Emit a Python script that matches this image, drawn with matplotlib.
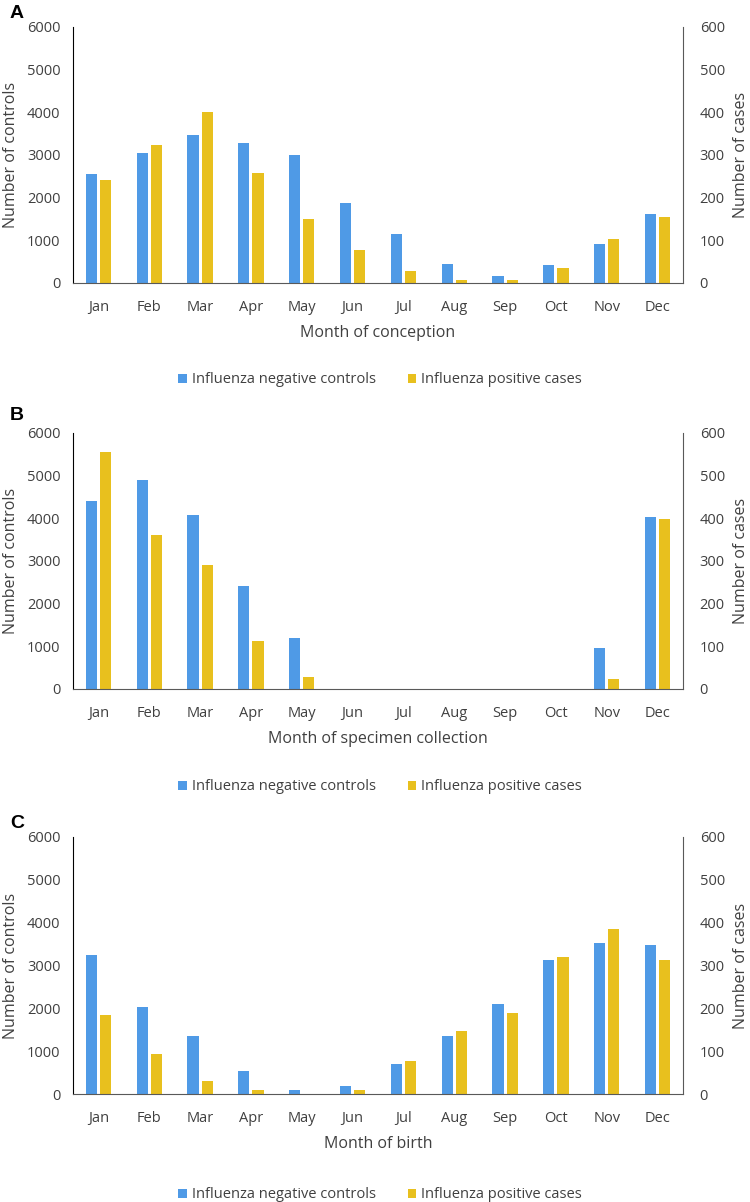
import numpy as np
import matplotlib
matplotlib.use('Agg')
from matplotlib import pyplot as plt

plt.rcParams['font.family'] = ['Open Sans', 'DejaVu Sans']

months = ['Jan', 'Feb', 'Mar', 'Apr', 'May', 'Jun',
          'Jul', 'Aug', 'Sep', 'Oct', 'Nov', 'Dec']

# A: month of conception
conc_controls = [2555, 3055, 3477, 3273, 3000, 1883, 1150, 445, 156, 414, 914, 1625]
conc_cases = [242, 323, 400, 257, 150, 77, 27, 6, 6, 35, 103, 155]

# B: month of specimen collection
spec_controls = [4410, 4900, 4085, 2416, 1185, 0, 0, 0, 0, 0, 951, 4022]
spec_cases = [556, 362, 291, 113, 29, 0, 0, 0, 0, 0, 24, 399]

# C: month of birth
birth_controls = [3234, 2034, 1356, 538, 101, 195, 701, 1364, 2112, 3125, 3531, 3468]
birth_cases = [184, 94, 31, 9, 0, 10, 77, 148, 188, 319, 386, 312]

panels = [
    ('A', 'Month of conception', conc_controls, conc_cases),
    ('B', 'Month of specimen collection', spec_controls, spec_cases),
    ('C', 'Month of birth', birth_controls, birth_cases),
]

blue = '#4F9AE6'
yellow = '#E8C01E'
txt = '#404040'

W, H = 750, 1202
fig = plt.figure(figsize=(W / 100, H / 100), dpi=100)

# axes box in pixels: left, right, top, bottom ; legend y ; letter y
boxes = [(73, 683, 27, 283, 380, 13),
         (73, 683, 433, 689, 787, 415),
         (73, 683, 837, 1094, 1195, 823)]

x = np.arange(len(months))
bw = 0.22
off = 0.14

for (letter, xlabel, controls, cases), (l, r, t, b, ly, py) in zip(panels, boxes):
    aw, ah = r - l, b - t
    ax = fig.add_axes([l / W, 1 - b / H, aw / W, ah / H])
    ax2 = ax.twinx()
    h1 = ax.bar(x - off, controls, bw, color=blue)
    h2 = ax2.bar(x + off, cases, bw, color=yellow)

    ax.set_xlim(-0.5, 11.5)
    ax.set_ylim(0, 6000)
    ax2.set_ylim(0, 600)
    ax.set_yticks(np.arange(0, 6001, 1000))
    ax2.set_yticks(np.arange(0, 601, 100))
    ax.set_xticks(x)
    ax.set_xticklabels(months)

    for a in (ax, ax2):
        a.spines['top'].set_visible(False)
        a.tick_params(length=0, colors=txt, labelsize=10.5)
    ax.tick_params(axis='y', pad=9)
    ax2.tick_params(axis='y', pad=12)
    ax.tick_params(axis='x', pad=12)
    ax.spines['left'].set_color('black')
    ax.spines['bottom'].set_color('#595959')
    ax2.spines['right'].set_color('#595959')
    ax2.spines['left'].set_visible(False)
    ax2.spines['bottom'].set_visible(False)
    ax.spines['right'].set_visible(False)
    ax.set_zorder(ax2.get_zorder() + 1)
    ax.patch.set_visible(False)

    ax.set_ylabel('Number of controls', fontsize=11.5, color=txt)
    ax.yaxis.set_label_coords((19 - l) / aw, 0.5)
    ax2.set_ylabel('Number of cases', fontsize=11.5, color=txt)
    ax2.yaxis.set_label_coords((733 - l) / aw, 0.5)
    ax.set_xlabel(xlabel, fontsize=11.5, color=txt)
    ax.xaxis.set_label_coords(0.5, -(325 - 283) / ah)

    fig.text(10 / W, 1 - py / H, letter, fontsize=14, fontweight='bold',
             family='Liberation Sans', va='center', ha='left')

    fig.legend([h1, h2], ['Influenza negative controls', 'Influenza positive cases'],
               loc='center', bbox_to_anchor=(380 / W, 1 - ly / H), ncol=2,
               frameon=False, fontsize=10.5, handlelength=0.6, handleheight=0.6,
               handletextpad=0.3, columnspacing=2.2, labelcolor=txt)

fig.savefig('out.png', dpi=100)
